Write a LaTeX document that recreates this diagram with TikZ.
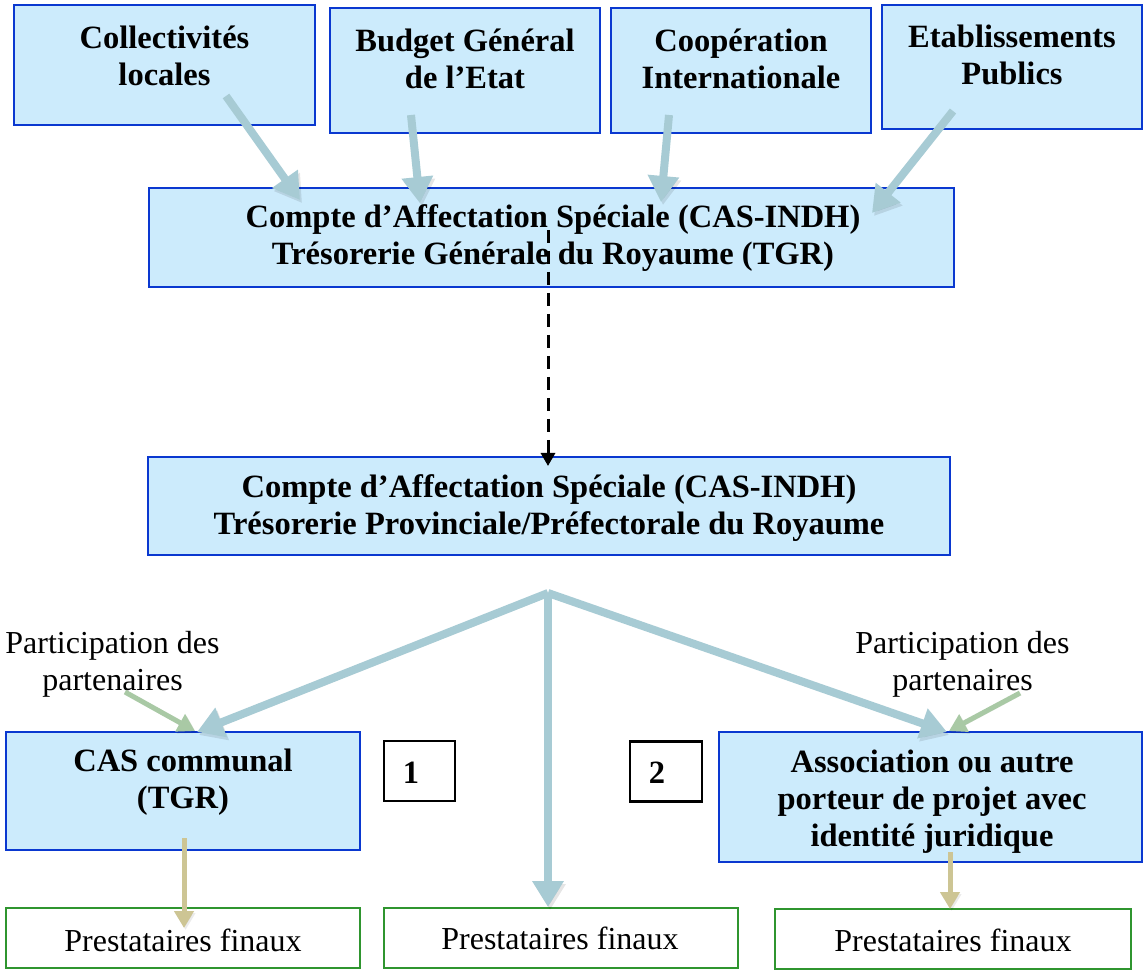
\documentclass[tikz,border=0pt]{standalone}
\usepackage{fontspec}
\setmainfont{Liberation Serif}
\usetikzlibrary{arrows.meta,calc}
\definecolor{boxfill}{HTML}{CCEBFC}
\definecolor{boxline}{HTML}{0A38D0}
\definecolor{flow}{HTML}{A7CBD4}
\definecolor{partg}{HTML}{A9C9A5}
\definecolor{tanc}{HTML}{CDC594}
\definecolor{presta}{HTML}{2F952F}
\begin{document}
\begin{tikzpicture}[x=1pt,y=-1pt,
  bluebox/.style={draw=boxline, line width=2.5pt, fill=boxfill, inner sep=0pt},
  prestabox/.style={draw=presta, line width=2pt, fill=white, inner sep=0pt, minimum width=354pt, minimum height=60pt},
  numbox/.style={draw=black, line width=2.5pt, fill=white, inner sep=0pt, minimum width=71pt, minimum height=60pt},
  txtb/.style={font=\fontsize{32.5}{37}\selectfont\bfseries, align=center, inner sep=0pt},
  txtr/.style={font=\fontsize{32}{37}\selectfont, align=center, inner sep=0pt},
  flowarrow/.style={draw=flow, line width=8pt, -{Triangle[width=30pt 0 0,length=26pt 0 0]},
    preaction={draw=black, opacity=0.10, transform canvas={shift={(2pt,-3pt)}}}},
  smallarrow/.style={line width=5pt, -{Triangle[width=19pt 0 0,length=17pt 0 0]},
    preaction={draw=black, opacity=0.08, transform canvas={shift={(1.5pt,-2pt)}}}},
  dasharrow/.style={draw=black, line width=3pt, dash pattern=on 13pt off 8pt, -{Triangle[width=14pt 0 0,length=13pt 0 0]}}
]
\useasboundingbox (0,0) rectangle (1144,973);
\fill[white] (0,0) rectangle (1144,973);

% top sources
\node[bluebox, minimum width=301pt, minimum height=120pt] (A) at (164.5,65) {};
\node[txtb] (At) at (164.5,56) {Collectivités\\locales};
\node[bluebox, minimum width=270pt, minimum height=125pt] (B) at (465,70.5) {};
\node[txtb] (Bt) at (465,59) {Budget Général\\de l’Etat};
\node[bluebox, minimum width=260pt, minimum height=125pt] (C) at (741,70.5) {};
\node[txtb] (Ct) at (741,59) {Coopération\\Internationale};
\node[bluebox, minimum width=260pt, minimum height=124pt] (D) at (1012,67) {};
\node[txtb] (Dt) at (1012,55) {Etablissements\\Publics};

% central accounts
\node[bluebox, minimum width=805pt, minimum height=99pt] (E) at (551.5,237.5) {};
\node[txtb] (Et) at (553,238) {Compte d’Affectation Spéciale (CAS-INDH)\\Trésorerie Générale du Royaume (TGR)};
\node[bluebox, minimum width=802pt, minimum height=98pt] (F) at (549,506) {};
\node[txtb] (Ft) at (549,508) {Compte d’Affectation Spéciale (CAS-INDH)\\Trésorerie Provinciale/Préfectorale du Royaume};

% lower level
\node[bluebox, minimum width=354pt, minimum height=118pt] (G) at (183,791) {};
\node[txtb] (Gt) at (183,782) {CAS communal\\(TGR)};
\node[bluebox, minimum width=423pt, minimum height=130pt] (J) at (930.5,797) {};
\node[txtb] (Jt) at (932,802) {Association ou autre\\porteur de projet avec\\identité juridique};

\node[numbox] (H) at (419.5,771) {};
\node[txtb] (Ht) at (411,773) {1};
\node[numbox, minimum width=72pt] (I) at (666,771.5) {};
\node[txtb] (It) at (657,773) {2};

\node[txtr] (P1) at (112.5,664) {Participation des\\partenaires};
\node[txtr] (P2) at (962.5,664) {Participation des\\partenaires};

\node[prestabox] (K) at (183,938) {};
\node[txtr] (Kt) at (183,940) {Prestataires finaux};
\node[prestabox] (L) at (561,938) {};
\node[txtr] (Lt) at (560,938) {Prestataires finaux};
\node[prestabox, minimum width=356pt] (M) at (953,938.5) {};
\node[txtr] (Mt) at (953,940) {Prestataires finaux};

% connector end points
\coordinate (tA) at (226,96);   \coordinate (hA) at (300,200);
\coordinate (tB) at (411,115);  \coordinate (hB) at (420,203);
\coordinate (tC) at (669,115);  \coordinate (hC) at (661,202);
\coordinate (tD) at (953,111);  \coordinate (hD) at (872,213);
\coordinate (tE) at (548,230);  \coordinate (hF) at (548,466);
\coordinate (apex) at (548,593);
\coordinate (hG) at (197,732);
\coordinate (hL) at (548,907);
\coordinate (hJ) at (947,732);
\coordinate (tP1) at (125,692); \coordinate (hP1) at (195,731);
\coordinate (tP2) at (1020,693); \coordinate (hP2) at (949,731);
\coordinate (tG) at (184,838);  \coordinate (hK) at (184,928);
\coordinate (tJ) at (950,852);  \coordinate (hM) at (950,909);

% connectors
\draw[flowarrow] (tA) -- (hA);
\draw[flowarrow] (tB) -- (hB);
\draw[flowarrow] (tC) -- (hC);
\draw[flowarrow] (tD) -- (hD);
\draw[dasharrow] (tE) -- (hF);
\draw[flowarrow] (apex) -- (hG);
\draw[flowarrow] (apex) -- (hL);
\draw[flowarrow] (apex) -- (hJ);
\draw[smallarrow, draw=partg] (tP1) -- (hP1);
\draw[smallarrow, draw=partg] (tP2) -- (hP2);
\draw[smallarrow, draw=tanc] (tG) -- (hK);
\draw[smallarrow, draw=tanc] (tJ) -- (hM);
\end{tikzpicture}
\end{document}
